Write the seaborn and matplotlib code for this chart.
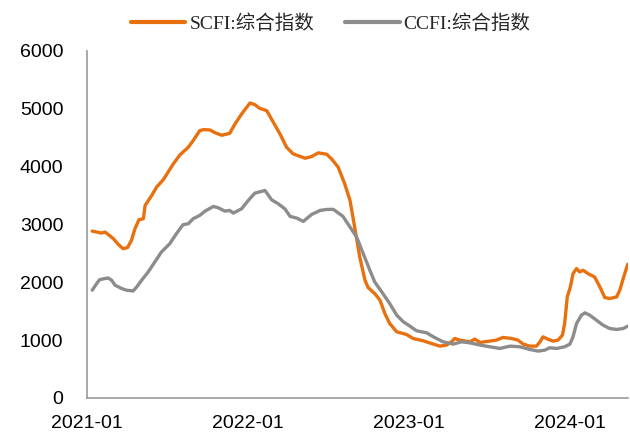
import pandas as pd
import seaborn as sns
import matplotlib.pyplot as plt
import matplotlib.dates as mdates

# SCFI composite index
scfi_dates = ["2021-01-13", "2021-02-03", "2021-02-11", "2021-02-18", "2021-03-02", "2021-03-13",
              "2021-03-24", "2021-04-03", "2021-04-12", "2021-04-20", "2021-04-29", "2021-05-09",
              "2021-05-13", "2021-05-28", "2021-06-08", "2021-06-23", "2021-07-04", "2021-07-16",
              "2021-07-31", "2021-08-19", "2021-08-30", "2021-09-14", "2021-09-22", "2021-10-07",
              "2021-10-18", "2021-11-03", "2021-11-21", "2021-12-03", "2021-12-18", "2022-01-06",
              "2022-01-17", "2022-01-28", "2022-02-13", "2022-02-28", "2022-03-15", "2022-03-30",
              "2022-04-14", "2022-05-11", "2022-05-26", "2022-06-10", "2022-06-29", "2022-07-10",
              "2022-07-25", "2022-08-09", "2022-08-21", "2022-09-01", "2022-09-12", "2022-09-24",
              "2022-10-01", "2022-10-16", "2022-10-28", "2022-11-08", "2022-11-19", "2022-12-05",
              "2022-12-27", "2023-01-11", "2023-02-03", "2023-02-26", "2023-03-13", "2023-03-28",
              "2023-04-08", "2023-04-16", "2023-04-27", "2023-05-20", "2023-05-31", "2023-06-12",
              "2023-07-04", "2023-07-19", "2023-08-03", "2023-08-22", "2023-09-06", "2023-09-18",
              "2023-10-03", "2023-10-18", "2023-10-26", "2023-11-02", "2023-11-14", "2023-11-25",
              "2023-12-06", "2023-12-16", "2023-12-21", "2023-12-27", "2024-01-03", "2024-01-09",
              "2024-01-17", "2024-01-24", "2024-02-01", "2024-02-12", "2024-02-27", "2024-03-10",
              "2024-03-21", "2024-04-01", "2024-04-17", "2024-04-24", "2024-05-03", "2024-05-12"]
scfi_values = [2884, 2850, 2867, 2827, 2753, 2655,
               2580, 2598, 2724, 2925, 3080, 3098,
               3327, 3500, 3643, 3770, 3901, 4046,
               4201, 4333, 4448, 4620, 4637, 4632,
               4586, 4540, 4574, 4736, 4908, 5098,
               5069, 5005, 4965, 4764, 4563, 4333,
               4218, 4143, 4172, 4236, 4212, 4132,
               3990, 3700, 3413, 2930, 2436, 2034,
               1908, 1805, 1690, 1460, 1288, 1143,
               1098, 1029, 988, 931, 896, 914,
               971, 1029, 1000, 971, 1017, 960,
               983, 1000, 1046, 1029, 1000, 931,
               896, 896, 971, 1057, 1012, 983,
               1000, 1086, 1288, 1747, 1919, 2149,
               2236, 2178, 2207, 2149, 2091, 1919,
               1736, 1718, 1747, 1862, 2091, 2310]

# CCFI composite index
ccfi_dates = ["2021-01-13", "2021-01-23", "2021-01-30", "2021-02-18", "2021-02-26", "2021-03-06",
              "2021-03-21", "2021-04-01", "2021-04-16", "2021-04-24", "2021-05-05", "2021-05-20",
              "2021-06-04", "2021-06-19", "2021-07-08", "2021-07-23", "2021-08-07", "2021-08-19",
              "2021-08-30", "2021-09-14", "2021-09-26", "2021-10-15", "2021-10-26", "2021-11-10",
              "2021-11-21", "2021-11-29", "2021-12-18", "2022-01-02", "2022-01-17", "2022-02-09",
              "2022-02-24", "2022-03-11", "2022-03-26", "2022-04-07", "2022-04-22", "2022-05-07",
              "2022-05-26", "2022-06-14", "2022-06-29", "2022-07-14", "2022-08-05", "2022-08-21",
              "2022-09-05", "2022-09-20", "2022-10-05", "2022-10-16", "2022-11-01", "2022-11-19",
              "2022-12-05", "2022-12-20", "2023-01-04", "2023-01-19", "2023-02-11", "2023-02-26",
              "2023-03-20", "2023-04-12", "2023-05-01", "2023-05-20", "2023-06-12", "2023-07-04",
              "2023-07-27", "2023-08-19", "2023-09-10", "2023-10-03", "2023-10-22", "2023-11-06",
              "2023-11-17", "2023-12-03", "2023-12-21", "2024-01-02", "2024-01-09", "2024-01-17",
              "2024-01-28", "2024-02-05", "2024-02-16", "2024-03-02", "2024-03-17", "2024-04-01",
              "2024-04-17", "2024-05-02", "2024-05-12"]
ccfi_values = [1862, 1977, 2046, 2074, 2034, 1948,
               1891, 1862, 1850, 1919, 2034, 2178,
               2350, 2522, 2667, 2839, 2994, 3011,
               3098, 3155, 3229, 3310, 3287, 3229,
               3241, 3195, 3270, 3413, 3540, 3586,
               3425, 3356, 3270, 3138, 3109, 3051,
               3172, 3241, 3258, 3260, 3138, 2953,
               2781, 2494, 2207, 2005, 1833, 1632,
               1431, 1316, 1241, 1161, 1126, 1057,
               971, 931, 971, 953, 914, 885,
               856, 896, 885, 839, 810, 827,
               867, 856, 885, 931, 1057, 1288,
               1431, 1471, 1431, 1345, 1259, 1201,
               1184, 1201, 1241]

scfi = pd.DataFrame({"date": pd.to_datetime(scfi_dates), "value": scfi_values})
ccfi = pd.DataFrame({"date": pd.to_datetime(ccfi_dates), "value": ccfi_values})

sns.set_style("white")
plt.rcParams['font.family'] = ['Liberation Sans', 'Noto Sans CJK SC']

fig = plt.figure(figsize=(6.3, 4.34), dpi=100)
ax = fig.add_axes([0.138, 0.083, 0.859, 0.8])

sns.lineplot(data=scfi, x="date", y="value", ax=ax, color="#E8700F", linewidth=2.4,
             label="SCFI:综合指数")
sns.lineplot(data=ccfi, x="date", y="value", ax=ax, color="#8C8C8C", linewidth=2.4,
             label="CCFI:综合指数")

ax.set_xlim(pd.Timestamp("2021-01-01"), pd.Timestamp("2024-05-13"))
ax.set_ylim(0, 6000)
ax.set_yticks(range(0, 6001, 1000))
ax.xaxis.set_major_locator(mdates.YearLocator())
ax.xaxis.set_major_formatter(mdates.DateFormatter("%Y-%m"))
ax.set_xlabel("")
ax.set_ylabel("")

for s in ["top", "right"]:
    ax.spines[s].set_visible(False)
for s in ["left", "bottom"]:
    ax.spines[s].set_color("#999999")
    ax.spines[s].set_linewidth(1.2)
ax.tick_params(axis="both", direction="out", length=5, width=1.2, color="#999999",
               labelsize=14, labelcolor="black")
ax.tick_params(axis="x", pad=7)
ax.tick_params(axis="y", pad=12)

leg = ax.legend(loc="center", bbox_to_anchor=(0.525, 0.945), bbox_transform=fig.transFigure,
                ncol=2, frameon=False,
                prop={"family": ["Liberation Serif", "Noto Sans CJK SC"], "size": 14},
                handlelength=2.8, handletextpad=0.2, columnspacing=1.6)
for line in leg.get_lines():
    line.set_linewidth(3)

fig.savefig("out.png", dpi=100)
